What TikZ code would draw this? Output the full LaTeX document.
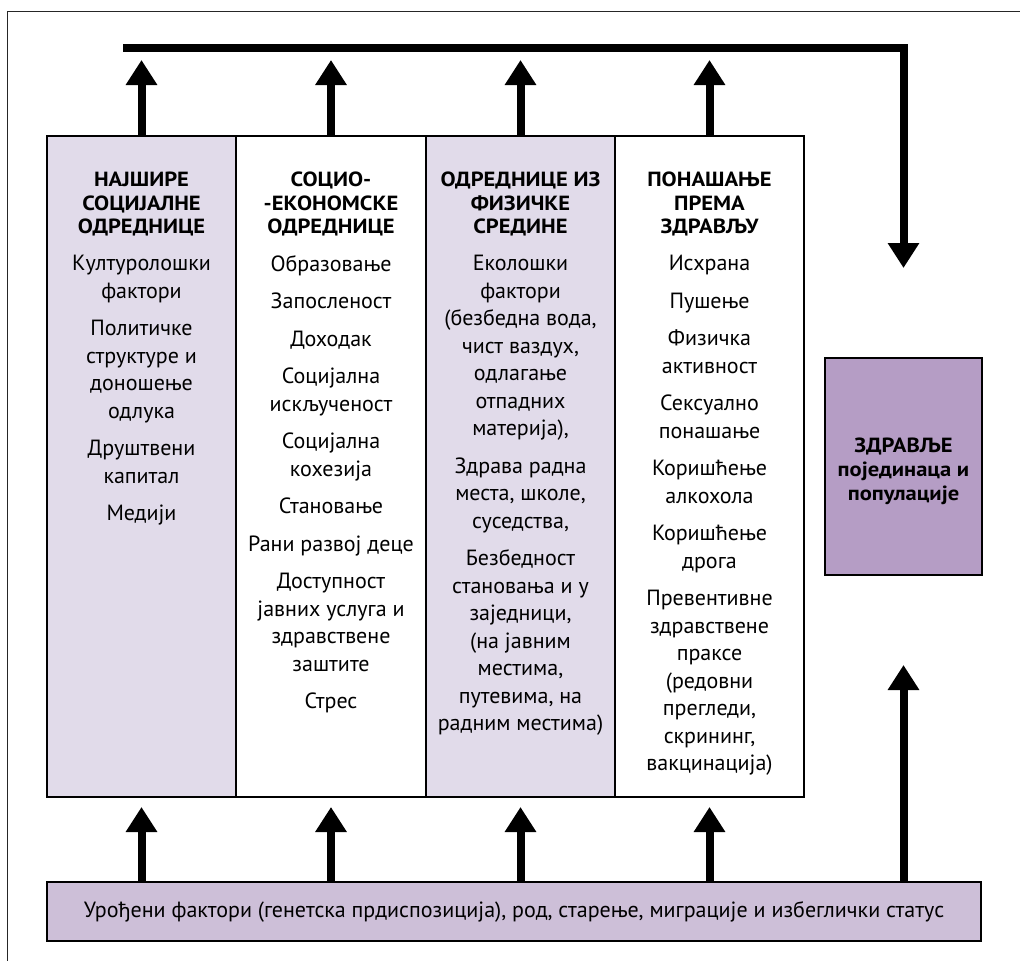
\documentclass[tikz,border=0pt]{standalone}
\usepackage{fontspec}
\setmainfont{PT Sans}
\newfontfamily\headfont[FakeStretch=1.1]{PT Sans}
\usetikzlibrary{arrows.meta}
\definecolor{lavlight}{HTML}{E1DBEA}
\definecolor{lavbar}{HTML}{CDBFD8}
\definecolor{lavbox}{HTML}{B59DC5}
\begin{document}
\begin{tikzpicture}[x=1pt,y=-1pt,
  colbox/.style={draw=black, line width=1.8pt, minimum width=189pt, minimum height=661pt, inner sep=0pt},
  headtxt/.style={font=\headfont\fontsize{20.5}{23.5}\selectfont\bfseries, align=center, anchor=north, inner sep=0pt},
  bodytxt/.style={font=\fontsize{22}{27.5}\selectfont, align=center, anchor=north, inner sep=0pt},
  bigarrow/.style={line width=8pt, -{Triangle[width=30pt,length=25pt]}},
]
\useasboundingbox (0,0) rectangle (1020,961);
% frame
\draw[line width=1.3pt, black!85] (7.5,961) -- (7.5,11.7) -- (1020,11.7);

% columns
\node[colbox, fill=lavlight] (c1) at (141.5,466.5) {};
\node[colbox, fill=white]    (c2) at (331,466.5) {};
\node[colbox, fill=lavlight] (c3) at (520.5,466.5) {};
\node[colbox, fill=white]    (c4) at (709.5,466.5) {};

% headers
\node[headtxt] (h1) at (141.5,172) {НАЈШИРЕ\\СОЦИЈАЛНЕ\\ОДРЕДНИЦЕ};
\node[headtxt] (h2) at (331,172) {СОЦИО-\\-ЕКОНОМСКЕ\\ОДРЕДНИЦЕ};
\node[headtxt] (h3) at (520.5,172) {ОДРЕДНИЦЕ ИЗ\\ФИЗИЧКЕ\\СРЕДИНЕ};
\node[headtxt] (h4) at (709.5,172) {ПОНАШАЊЕ\\ПРЕМА\\ЗДРАВЉУ};

% bodies
\node[bodytxt] (b1) at (141.5,255) {Културолошки\\фактори\\[10pt]Политичке\\структуре и\\доношење\\одлука\\[10pt]Друштвени\\капитал\\[10pt]Медији};
\node[bodytxt] (b2) at (331,255) {Образовање\\[10pt]Запосленост\\[10pt]Доходак\\[10pt]Социјална\\искљученост\\[10pt]Социјална\\кохезија\\[10pt]Становање\\[10pt]Рани развој деце\\[10pt]Доступност\\јавних услуга и\\здравствене\\заштите\\[10pt]Стрес};
\node[bodytxt] (b3) at (520.5,255) {Еколошки\\фактори\\(безбедна вода,\\чист ваздух,\\одлагање\\отпадних\\материја),\\[10pt]Здрава радна\\места, школе,\\суседства,\\[10pt]Безбедност\\становања и у\\заједници,\\(на јавним\\местима,\\путевима, на\\радним местима)};
\node[bodytxt] (b4) at (709.5,255) {Исхрана\\[10pt]Пушење\\[10pt]Физичка\\активност\\[10pt]Сексуално\\понашање\\[10pt]Коришћење\\алкохола\\[10pt]Коришћење\\дрога\\[10pt]Превентивне\\здравствене\\праксе\\(редовни\\прегледи,\\скрининг,\\вакцинација)};

% health box
\node[draw=black, line width=1.8pt, fill=lavbox, minimum width=157pt, minimum height=217pt, inner sep=0pt] (health) at (903.5,466.5) {};
\node[font=\headfont\fontsize{20.5}{24}\selectfont\bfseries, align=center, inner sep=0pt] (htxt) at (903.5,471) {ЗДРАВЉЕ\\појединаца и\\популације};

% bottom bar
\node[draw=black, line width=1.8pt, fill=lavbar, minimum width=934pt, minimum height=59pt, inner sep=0pt,
      font=\fontsize{22}{26}\selectfont] (bar) at (514,911.5) {Урођени фактори (генетска прдиспозиција), род, старење, миграције и избеглички статус};

% arrow tip coordinates
\coordinate (t1) at (141.5,60);
\coordinate (t2) at (331,60);
\coordinate (t3) at (520.5,60);
\coordinate (t4) at (709.5,60);
\coordinate (u1) at (141.5,807);
\coordinate (u2) at (331,807);
\coordinate (u3) at (520.5,807);
\coordinate (u4) at (709.5,807);
\coordinate (barL) at (123,47.5);
\coordinate (barR) at (903.5,47.5);
\coordinate (downtip) at (903.5,268);
\coordinate (uptip) at (903.5,665);

% top arrows
\draw[bigarrow] (c1.north) -- (t1);
\draw[bigarrow] (c2.north) -- (t2);
\draw[bigarrow] (c3.north) -- (t3);
\draw[bigarrow] (c4.north) -- (t4);
% bottom arrows
\draw[bigarrow] (bar.north -| c1.south) -- (u1);
\draw[bigarrow] (bar.north -| c2.south) -- (u2);
\draw[bigarrow] (bar.north -| c3.south) -- (u3);
\draw[bigarrow] (bar.north -| c4.south) -- (u4);
% feedback line
\draw[bigarrow, line join=miter] (barL) -- (barR) -- (downtip);
% right up arrow
\draw[bigarrow] (bar.north -| health.south) -- (uptip);
\end{tikzpicture}
\end{document}
